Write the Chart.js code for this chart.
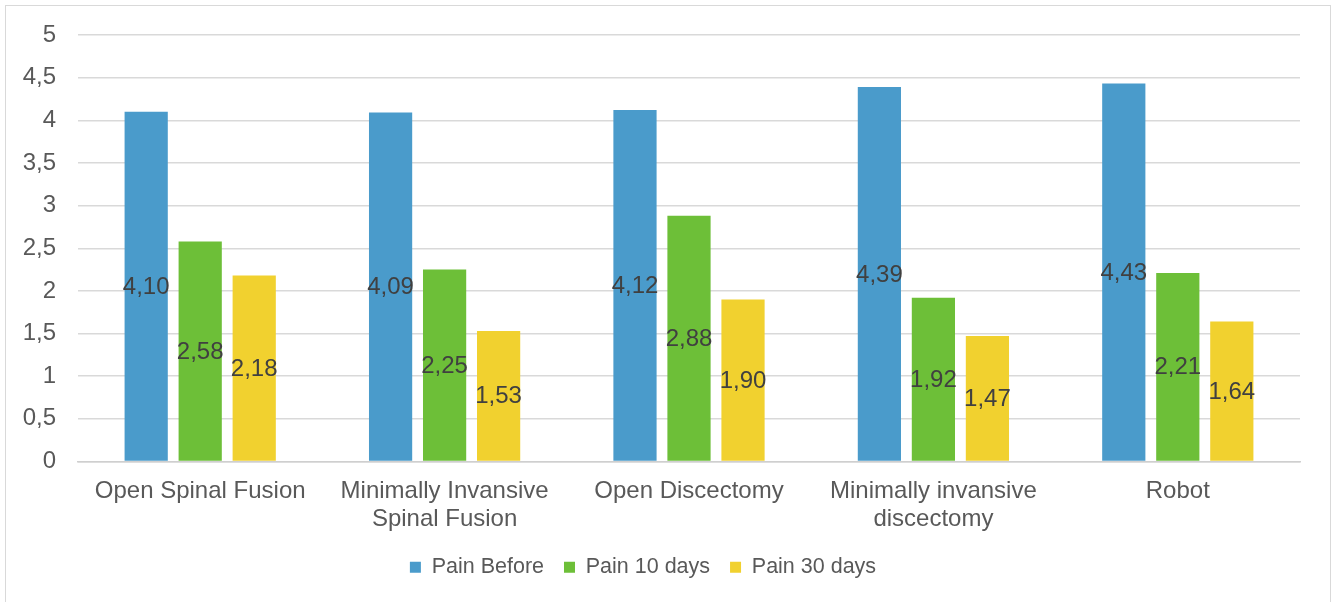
<!DOCTYPE html>
<html>
<head>
<meta charset="utf-8">
<script src="https://cdn.jsdelivr.net/npm/chart.js@4/dist/chart.umd.min.js"></script>
<style>
  html, body { margin: 0; padding: 0; background: #ffffff; overflow: hidden; }
  #frame {
    position: absolute; left: 5px; top: 5px;
    width: 1324px; height: 620px;
    border: 1px solid #d9d9d9;
    background: #ffffff;
  }
  #chart { display: block; }
</style>
</head>
<body>
<div id="frame"><canvas id="chart" width="1324" height="596"></canvas></div>
<script>
// Procedures compared
const categories = [
  'Open Spinal Fusion',
  ['Minimally Invansive', 'Spinal Fusion'],
  'Open Discectomy',
  ['Minimally invansive', 'discectomy'],
  'Robot'
];

// Mean pain scores per procedure
const painBefore = [4.10, 4.09, 4.12, 4.39, 4.43];
const pain10Days = [2.58, 2.25, 2.88, 1.92, 2.21];
const pain30Days = [2.18, 1.53, 1.90, 1.47, 1.64];

const seriesNames = ['Pain Before', 'Pain 10 days', 'Pain 30 days'];
const seriesColors = ['#4a9bcb', '#6dbf38', '#f1d12f'];

// Y-axis ticks
const yMin = 0;
const yMax = 5;
const yStep = 0.5;

const FONT = '"Liberation Sans", Arial, Helvetica, sans-serif';
const AXIS_SIZE = 24;
const LEGEND_SIZE = 21.5;
const comma = (v, d) => (d === undefined ? String(v) : v.toFixed(d)).replace('.', ',');

// Writes each bar's value at the middle of the bar
const barValueLabels = {
  id: 'barValueLabels',
  afterDatasetsDraw(chart) {
    const ctx = chart.ctx;
    ctx.save();
    ctx.font = AXIS_SIZE + 'px ' + FONT;
    ctx.fillStyle = '#404040';
    ctx.textAlign = 'center';
    ctx.textBaseline = 'middle';
    chart.data.datasets.forEach((ds, i) => {
      const meta = chart.getDatasetMeta(i);
      meta.data.forEach((bar, j) => {
        const y = (bar.y + bar.base) / 2;
        ctx.fillText(comma(ds.data[j], 2), bar.x, y + 1);
      });
    });
    ctx.restore();
  }
};

// Nudges the legend row a little to the left of the canvas centre
const legendOffset = {
  id: 'legendOffset',
  afterLayout(chart) {
    const lg = chart.legend;
    if (lg) { lg.left -= 10; lg.right -= 10; }
  }
};

const dataSets = [painBefore, pain10Days, pain30Days].map((vals, i) => ({
  label: seriesNames[i],
  data: vals,
  backgroundColor: seriesColors[i],
  borderWidth: 0,
  categoryPercentage: 0.663,
  barPercentage: 0.8
}));

new Chart(document.getElementById('chart'), {
  type: 'bar',
  data: { labels: categories, datasets: dataSets },
  plugins: [barValueLabels, legendOffset],
  options: {
    responsive: false,
    animation: false,
    devicePixelRatio: 1,
    layout: { padding: { left: 0, right: 30, top: 29, bottom: 14 } },
    plugins: {
      tooltip: { enabled: false },
      legend: {
        position: 'bottom',
        labels: {
          font: { family: FONT, size: LEGEND_SIZE },
          color: '#595959',
          boxWidth: 11,
          boxHeight: 11,
          padding: 20
        }
      }
    },
    scales: {
      x: {
        grid: { display: false, drawTicks: false },
        border: { display: true, color: '#cfcfcf', width: 1.5 },
        afterFit(scale) { scale.height = 75; },
        ticks: {
          font: { family: FONT, size: AXIS_SIZE, lineHeight: 1.2 },
          color: '#595959',
          padding: 15,
          maxRotation: 0,
          autoSkip: false
        }
      },
      y: {
        min: yMin,
        max: yMax,
        grid: { color: '#d9d9d9', lineWidth: 1.5, drawTicks: false },
        border: { display: false },
        afterFit(scale) {
          scale.width = 72;
          scale.paddingTop = 0;
          scale.paddingBottom = 0;
        },
        ticks: {
          stepSize: yStep,
          font: { family: FONT, size: AXIS_SIZE },
          color: '#595959',
          padding: 22,
          callback: (v) => comma(v)
        }
      }
    }
  }
});
</script>
</body>
</html>
